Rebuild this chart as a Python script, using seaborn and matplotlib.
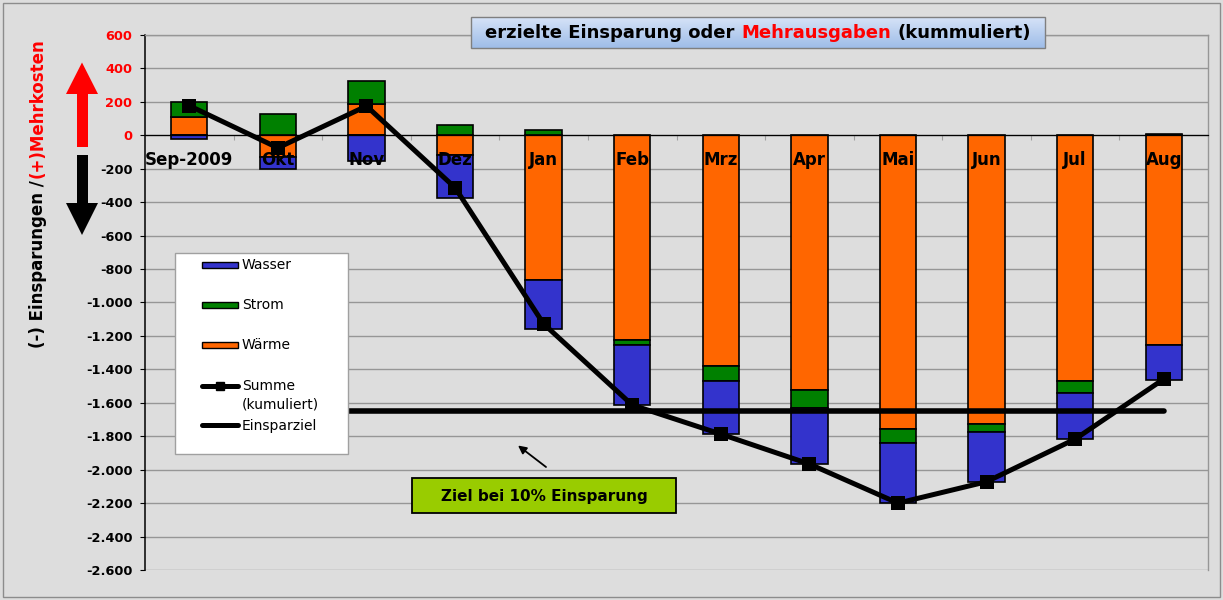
import numpy as np
import matplotlib
matplotlib.use("Agg")
import matplotlib.pyplot as plt
import seaborn as sns
from matplotlib.patches import Rectangle, Polygon
from matplotlib.offsetbox import TextArea, HPacker, AnchoredOffsetbox
from matplotlib.lines import Line2D

# ---------------- data ----------------
months = ["Sep-2009", "Okt", "Nov", "Dez", "Jan", "Feb", "Mrz", "Apr", "Mai", "Jun", "Jul", "Aug"]
waerme = [111, -128, 187, -118, -865, -1224, -1380, -1523, -1758, -1726, -1468, -1254]
strom = [90, 127, 140, 63, 32, -30, -90, -108, -84, -47, -75, 5]
wasser = [-24, -74, -152, -259, -295, -359, -317, -335, -358, -299, -274, -209]
summe = [177, -75, 175, -313, -1128, -1613, -1787, -1966, -2200, -2072, -1817, -1458]
einsparziel = -1650
y_ticks = list(range(-2600, 601, 200))
legend_names = ["Wasser", "Strom", "Wärme", "Summe\n(kumuliert)", "Einsparziel"]
title_parts = ["erzielte Einsparung oder", "Mehrausgaben", "(kummuliert)"]
ylabel_parts = ["(-) Einsparungen /", "(+)Mehrkosten"]
ziel_text = "Ziel bei 10% Einsparung"

# ---------------- style ----------------
plt.rcParams["font.family"] = ["DejaVu Sans"]
BG = "#DDDDDD"
GRID = "#969696"
C_WAERME, C_STROM, C_WASSER = "#FF6600", "#008000", "#3333CC"

W, H = 1223, 600
fig = plt.figure(figsize=(W / 100, H / 100), dpi=100, facecolor=BG)
ax = fig.add_axes([145 / W, 30 / H, 1063 / W, 535 / H])
ax.set_facecolor(BG)

pos = np.arange(len(months))

# stacked bars (Excel order: Wärme, Strom, Wasser; pos/neg stacked separately)
pos_cum = np.zeros(len(months))
neg_cum = np.zeros(len(months))
for vals, col in [(waerme, C_WAERME), (strom, C_STROM), (wasser, C_WASSER)]:
    v = np.asarray(vals, dtype=float)
    bottom = np.where(v >= 0, pos_cum, neg_cum)
    sns.barplot(x=pos, y=v, bottom=bottom, native_scale=True, orient="x",
                color=col, saturation=1, width=0.41, edgecolor="black",
                linewidth=1.2, errorbar=None, ax=ax, zorder=2)
    pos_cum = pos_cum + np.where(v >= 0, v, 0)
    neg_cum = neg_cum + np.where(v < 0, v, 0)

# goal line and cumulative sum line
sns.lineplot(x=[pos[0], pos[-1]], y=[einsparziel, einsparziel], color="black",
             linewidth=4.0, ax=ax, zorder=4, solid_capstyle="round")
sns.lineplot(x=pos, y=summe, color="black", linewidth=3.6, marker="s",
             markersize=9.6, markeredgecolor="black", markeredgewidth=0,
             estimator=None, sort=False, ax=ax, zorder=5)

# axes formatting
ax.set_xlim(-0.5, len(months) - 0.5)
ax.set_ylim(y_ticks[0], y_ticks[-1])
ax.set_yticks(y_ticks)
ax.set_yticklabels([f"{t:,}".replace(",", ".") for t in y_ticks],
                   fontsize=9.3, fontweight="bold")
for lab, t in zip(ax.get_yticklabels(), y_ticks):
    lab.set_color("#FF0000" if t >= 0 else "black")
ax.tick_params(axis="y", direction="out", length=3.6, width=0.8,
               color="black", pad=5.5, left=True)
ax.set_xticks(pos[:-1] + 0.5)
ax.set_xticklabels([])
ax.tick_params(axis="x", direction="out", length=3.6, width=0.8,
               color="#A0A0A0", bottom=True)
ax.set_xlabel("")
ax.set_ylabel("")
ax.set_axisbelow(True)
ax.yaxis.grid(True, color=GRID, linewidth=1.0)
ax.xaxis.grid(False)
ax.spines["bottom"].set_position(("data", 0))
ax.spines["bottom"].set_color("black")
ax.spines["bottom"].set_linewidth(0.9)
ax.spines["left"].set_color("black")
ax.spines["left"].set_linewidth(1.1)
for s in ("top", "right"):
    ax.spines[s].set_color(GRID)
    ax.spines[s].set_linewidth(1.0)

for i, m in enumerate(months):
    ax.text(i, -178, m, ha="center", va="baseline", fontsize=12,
            fontweight="bold", color="black", zorder=4.5)

# ---------------- overlay (pixel coordinates) ----------------
ov = fig.add_axes([0, 0, 1, 1], zorder=10)
ov.set_autoscale_on(False)
ov.set_xlim(0, W)
ov.set_ylim(H, 0)
ov.axis("off")

# outer frame
ov.add_patch(Rectangle((3, 3), W - 6, H - 6, fill=False, edgecolor="#8C8C8C", lw=1))

# y label in two colours
ov.text(38, 180, ylabel_parts[0], rotation=90, ha="center", va="top",
        fontsize=12, fontweight="bold", color="black")
ov.text(38, 178, ylabel_parts[1], rotation=90, ha="center", va="bottom",
        fontsize=12, fontweight="bold", color="#FF0000")

# big arrows
ov.add_patch(Polygon([(77, 147), (77, 94), (66, 94), (82, 62.5), (98, 94), (88, 94), (88, 147)],
                     closed=True, facecolor="#FF0000", edgecolor="none"))
ov.add_patch(Polygon([(77, 155), (77, 203), (66, 203), (82, 235), (98, 203), (88, 203), (88, 155)],
                     closed=True, facecolor="black", edgecolor="none"))

# title box with gradient
top_c = np.array([0.84, 0.89, 0.97])
bot_c = np.array([0.62, 0.74, 0.91])
grad = np.linspace(0, 1, 64)[:, None, None] * (bot_c - top_c) + top_c
grad = np.repeat(grad, 2, axis=1)
ov.imshow(grad, extent=[471, 1045, 48, 17], aspect="auto", zorder=1)
ov.add_patch(Rectangle((471, 17), 574, 31, fill=False, edgecolor="#7F7F7F", lw=1, zorder=2))
tp = dict(fontsize=13, fontweight="bold")
pack = HPacker(children=[TextArea(title_parts[0], textprops=dict(color="black", **tp)),
                         TextArea(title_parts[1], textprops=dict(color="#FF0000", **tp)),
                         TextArea(title_parts[2], textprops=dict(color="black", **tp))],
               align="baseline", pad=0, sep=4.5)
ab = AnchoredOffsetbox(loc="center", child=pack, frameon=False, pad=0, borderpad=0,
                       bbox_to_anchor=(758, 33), bbox_transform=ov.transData)
ab.set_zorder(3)
ov.add_artist(ab)

# legend box
ov.add_patch(Rectangle((175, 253), 173, 201, facecolor="white", edgecolor="#A0A0A0", lw=1, zorder=2))
for y, col, name in [(265, C_WASSER, legend_names[0]), (305, C_STROM, legend_names[1]),
                     (345, C_WAERME, legend_names[2])]:
    ov.add_patch(Rectangle((202, y - 3), 36, 6, facecolor=col, edgecolor="black", lw=1, zorder=3))
    ov.text(242, y, name, ha="left", va="center", fontsize=10, color="black", zorder=3)
ov.add_line(Line2D([202, 238], [386, 386], color="black", lw=3.6, solid_capstyle="round", zorder=3))
ov.add_line(Line2D([220], [386], color="black", marker="s", markersize=5.5, zorder=3, lw=0))
s1, s2 = legend_names[3].split("\n")
ov.text(242, 386, s1, ha="left", va="center", fontsize=10, color="black", zorder=3)
ov.text(242, 404, s2, ha="left", va="center", fontsize=10, color="black", zorder=3)
ov.add_line(Line2D([202, 238], [425, 425], color="black", lw=3.6, solid_capstyle="round", zorder=3))
ov.text(242, 426, legend_names[4], ha="left", va="center", fontsize=10, color="black", zorder=3)

# goal annotation
ov.annotate("", xy=(518, 445.5), xytext=(546, 467),
            arrowprops=dict(arrowstyle="-|>", color="black", lw=1.3, mutation_scale=12,
                            shrinkA=0, shrinkB=0))
ov.add_patch(Rectangle((412, 478), 264, 35, facecolor="#99CC00", edgecolor="black", lw=1.3, zorder=2))
ov.text(544, 496, ziel_text, ha="center", va="center", fontsize=11,
        fontweight="bold", color="black", zorder=3)

fig.savefig("out.png", dpi=100, facecolor=BG)
